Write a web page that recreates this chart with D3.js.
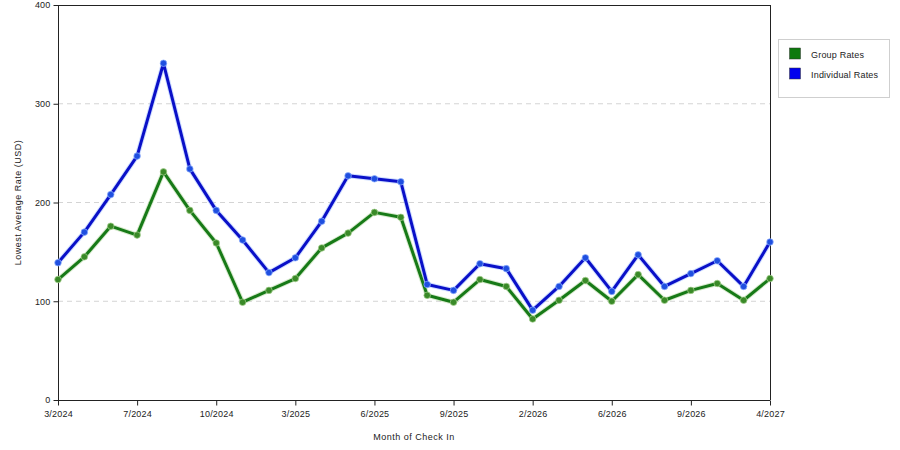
<!DOCTYPE html>
<html>
<head>
<meta charset="utf-8">
<script src="https://cdn.jsdelivr.net/npm/d3@7/dist/d3.min.js"></script>
<style>
  html, body { margin: 0; padding: 0; background: #fff; }
  svg { display: block; }
  text { font-family: "Liberation Sans", Arial, sans-serif; fill: #222; }
</style>
</head>
<body>
<svg id="chart" width="900" height="450"></svg>
<script>
// ---- data ----
const categories = [
  "3/2024","4/2024","5/2024","7/2024","8/2024","9/2024","10/2024","11/2024","1/2025",
  "3/2025","4/2025","5/2025","6/2025","7/2025","8/2025","9/2025","10/2025","11/2025",
  "2/2026","3/2026","5/2026","6/2026","7/2026","8/2026","9/2026","10/2026","12/2026","4/2027"
];
const groupRates = [
  122, 145, 176, 167, 231, 192, 159, 99, 111,
  123, 154, 169, 190, 185, 106, 99, 122, 115,
  82, 101, 121, 100, 127, 101, 111, 118, 101, 123
];
const individualRates = [
  139, 170, 208, 247, 341, 234, 192, 162, 129,
  144, 181, 227, 224, 221, 117, 111, 138, 133,
  91, 115, 144, 110, 147, 115, 128, 141, 115, 160
];
const xTickLabels = ["3/2024","7/2024","10/2024","3/2025","6/2025","9/2025","2/2026","6/2026","9/2026","4/2027"];
const yTicks = [0, 100, 200, 300, 400];
const seriesNames = ["Group Rates", "Individual Rates"];

// ---- layout ----
const svg = d3.select("#chart");
const margin = { left: 58, top: 5, right: 130, bottom: 50 };
const W = 900, H = 450;
const x0 = margin.left, x1 = W - margin.right, y0 = H - margin.bottom, y1 = margin.top;

const x = d3.scalePoint().domain(categories).range([x0, x1]);
const y = d3.scaleLinear().domain([0, 400]).range([y0, y1]);

const series = [
  { name: seriesNames[0], values: groupRates, line: "#177a17", marker: "#3a8a28", glow: "#a6d090", legend: "#0d7a0d" },
  { name: seriesNames[1], values: individualRates, line: "#0a10c8", marker: "#1f4fe0", glow: "#93b3ff", legend: "#0000ee" }
];

// gridlines
svg.append("g").selectAll("line")
  .data(yTicks.filter(d => d > 0 && d < 400))
  .join("line")
  .attr("x1", x0).attr("x2", x1)
  .attr("y1", d => y(d)).attr("y2", d => y(d))
  .attr("stroke", "#d4d4d4").attr("stroke-width", 1)
  .attr("stroke-dasharray", "5,4");

// frame (top & right)
svg.append("line").attr("x1", x0).attr("x2", x1).attr("y1", y1 + 0.5).attr("y2", y1 + 0.5)
  .attr("stroke", "#222").attr("stroke-width", 1);
svg.append("line").attr("x1", x1 + 0.5).attr("x2", x1 + 0.5).attr("y1", y1).attr("y2", y0)
  .attr("stroke", "#222").attr("stroke-width", 1);

// axes
const yAxis = d3.axisLeft(y).tickValues(yTicks).tickSize(5).tickPadding(3);
const gy = svg.append("g").attr("transform", `translate(${x0 + 0.5},0)`).call(yAxis);
const xAxis = d3.axisBottom(x).tickValues(xTickLabels).tickSize(5).tickPadding(5);
const gx = svg.append("g").attr("transform", `translate(0,${y0 + 0.5})`).call(xAxis);
[gy, gx].forEach(g => {
  g.select(".domain").attr("stroke", "#222");
  g.selectAll(".tick line").attr("stroke", "#222");
  g.selectAll(".tick text").attr("font-size", "9px").attr("fill", "#222")
    .attr("letter-spacing", "0.2px")
    .style("font-family", '"Liberation Sans", Arial, sans-serif');
});
gy.select(".domain").attr("d", `M0,${y0}V${y1}`);
gx.select(".domain").attr("d", `M${x0},0H${x1}`);

// axis titles
svg.append("text")
  .attr("x", (x0 + x1) / 2).attr("y", 440)
  .attr("text-anchor", "middle").attr("font-size", "9px").attr("letter-spacing", "0.5px")
  .text("Month of Check In");
svg.append("text")
  .attr("transform", `translate(21,${(y0 + y1) / 2}) rotate(-90)`)
  .attr("text-anchor", "middle").attr("font-size", "9px").attr("letter-spacing", "0.5px")
  .text("Lowest Average Rate (USD)");

// lines & markers
const lineGen = d3.line().x((d, i) => x(categories[i])).y(d => y(d));
const gs = svg.append("g").selectAll("g").data(series).join("g");
gs.append("path")
  .attr("d", s => lineGen(s.values))
  .attr("fill", "none").attr("stroke", s => s.glow).attr("stroke-width", 5)
  .attr("stroke-opacity", 0.45).attr("stroke-linejoin", "round");
gs.append("path")
  .attr("d", s => lineGen(s.values))
  .attr("fill", "none").attr("stroke", s => s.line).attr("stroke-width", 3)
  .attr("stroke-linejoin", "round");
gs.each(function(s) {
  d3.select(this).selectAll("circle")
    .data(s.values)
    .join("circle")
    .attr("cx", (d, i) => x(categories[i]))
    .attr("cy", d => y(d))
    .attr("r", 3.3)
    .attr("fill", s.marker)
    .attr("stroke", s.glow).attr("stroke-opacity", 0.7).attr("stroke-width", 1);
});

// legend
const lg = svg.append("g").attr("transform", "translate(778.5,39.5)");
lg.append("rect").attr("width", 111).attr("height", 58)
  .attr("fill", "#fff").attr("stroke", "#cfcfcf");
series.forEach((s, i) => {
  lg.append("rect").attr("x", 11).attr("y", 8.5 + i * 20).attr("width", 11).attr("height", 11)
    .attr("fill", s.legend).attr("stroke", "#333").attr("stroke-width", 0.5);
  lg.append("text").attr("x", 32.5).attr("y", 18 + i * 20)
    .attr("font-size", "9px").attr("letter-spacing", "0.2px").text(s.name);
});
</script>
</body>
</html>
